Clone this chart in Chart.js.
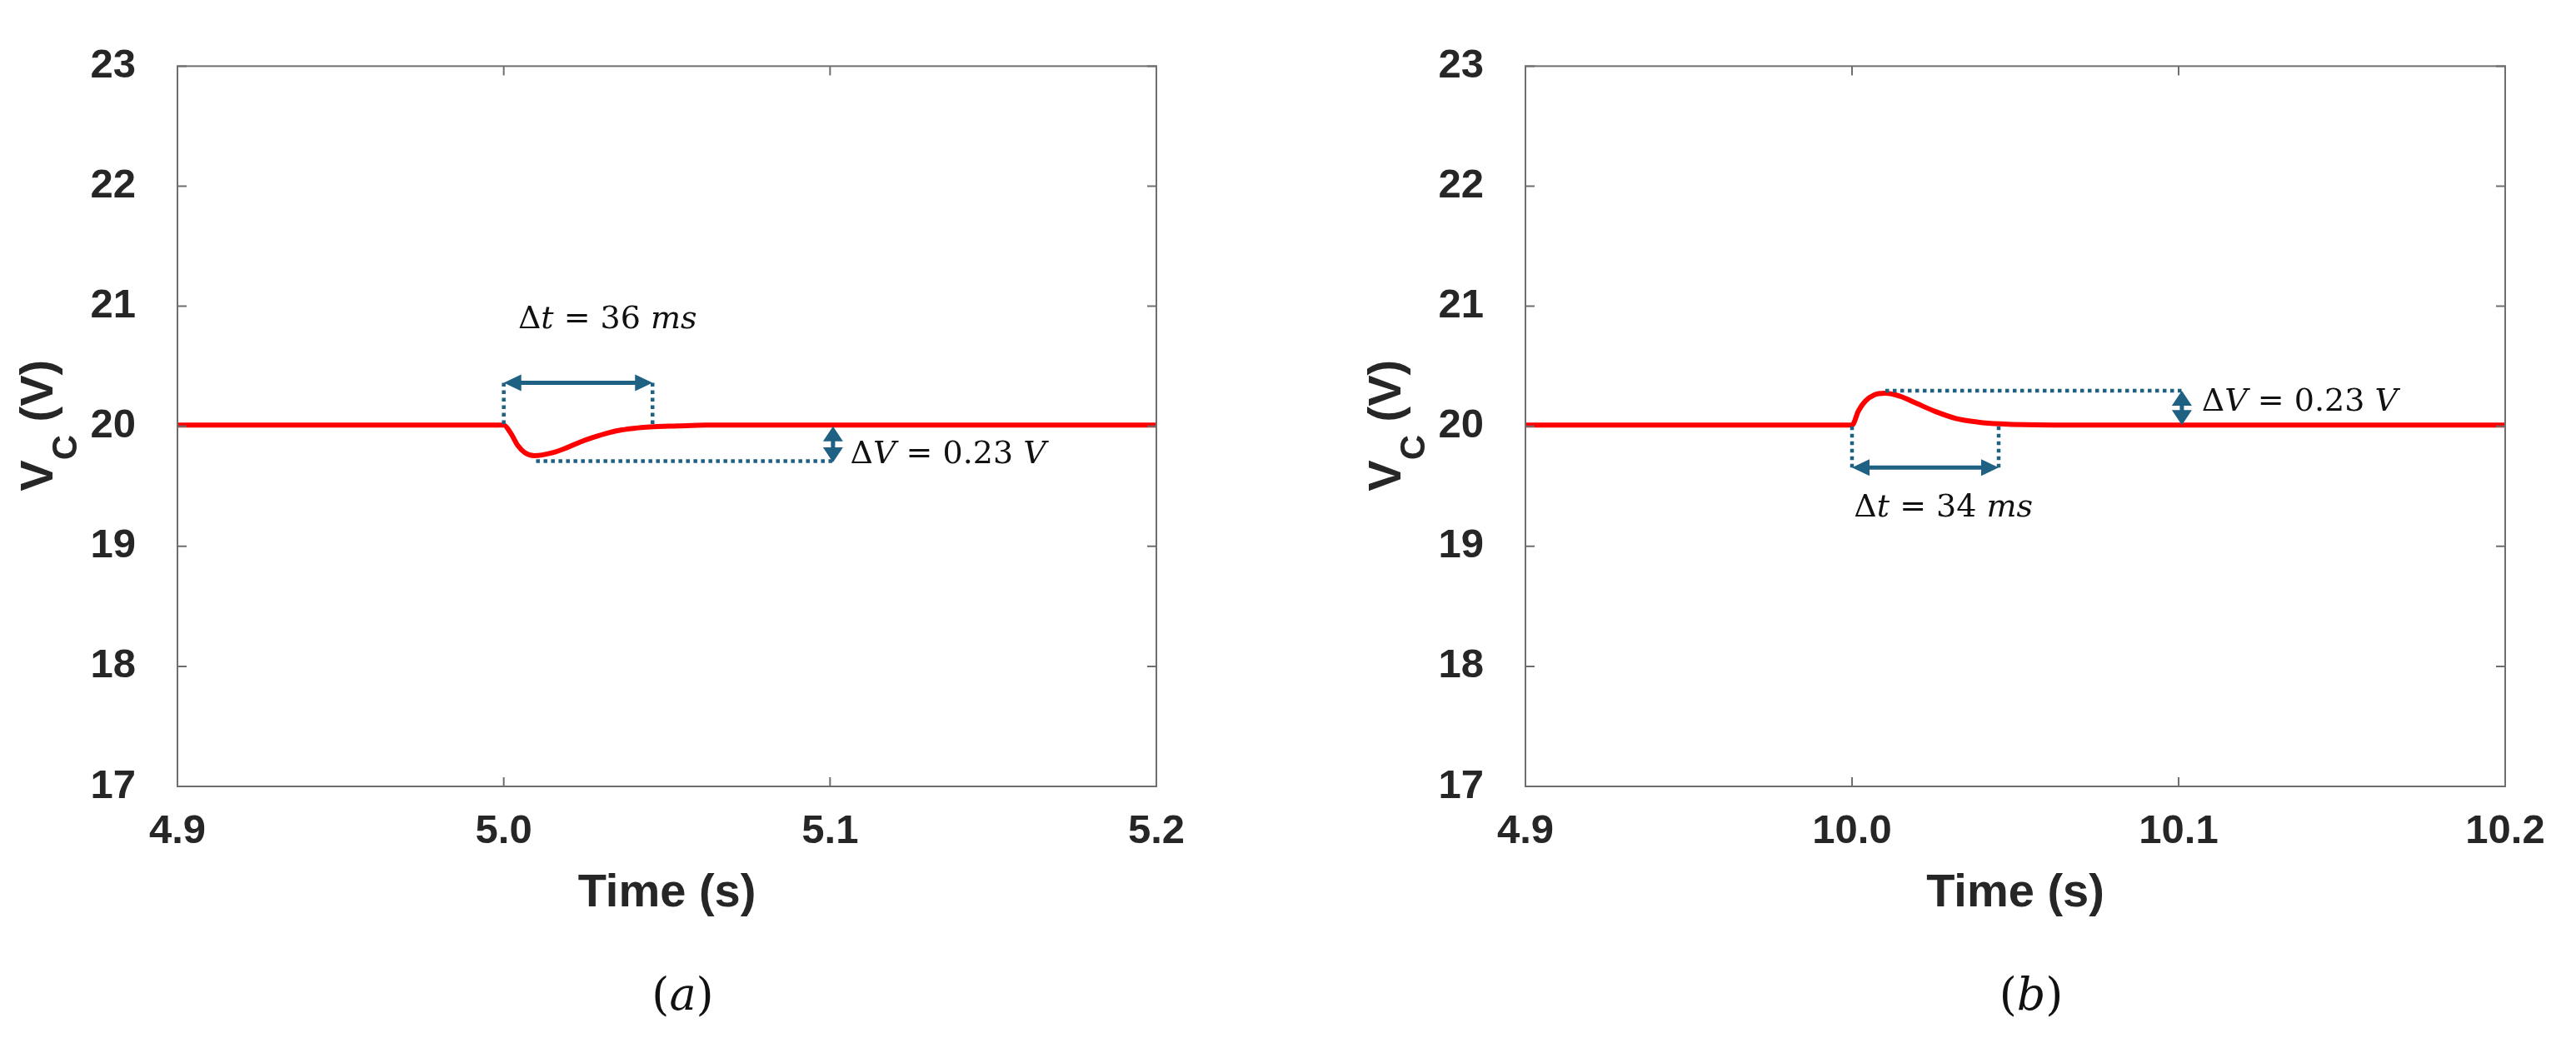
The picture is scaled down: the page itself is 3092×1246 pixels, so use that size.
<!DOCTYPE html>
<html>
<head>
<meta charset="utf-8">
<script src="https://cdn.jsdelivr.net/npm/chart.js@4.4.1/dist/chart.umd.min.js"></script>
<style>
  html, body { margin: 0; padding: 0; background: #fff; }
  #wrap { position: relative; width: 3092px; height: 1246px; }
  canvas { position: absolute; top: 0; }
</style>
</head>
<body>
<div id="wrap">
  <canvas id="chartA" width="1546" height="1246" style="left:0"></canvas>
  <canvas id="chartB" width="1546" height="1246" style="left:1546px"></canvas>
</div>
<script>
// (a) capacitor voltage around the step at 5.0 s
const timeA = [4.9, 5.0, 5.0022, 5.0043, 5.0065, 5.0094, 5.0150, 5.0192, 5.0235, 5.0277, 5.0320, 5.0362, 5.0405, 5.0448, 5.0533, 5.0618, 5.2];
const voltA = [20.01, 20.01, 19.94, 19.84, 19.78, 19.755, 19.78, 19.82, 19.87, 19.91, 19.945, 19.97, 19.985, 19.995, 20.003, 20.01, 20.01];

// (b) capacitor voltage around the step at 10.0 s
const timeB = [9.9, 10.0, 10.002, 10.0041, 10.0067, 10.0101, 10.0147, 10.0198, 10.0258, 10.0318, 10.0386, 10.0454, 10.0616, 10.2];
const voltB = [20.01, 20.01, 20.13, 20.21, 20.26, 20.275, 20.25, 20.19, 20.12, 20.065, 20.035, 20.02, 20.01, 20.01];

const voltTicks = [17, 18, 19, 20, 21, 22, 23];
const timeTicksA = [4.9, 5.0, 5.1, 5.2];
const timeLabelsA = ['4.9', '5.0', '5.1', '5.2'];
const timeTicksB = [9.9, 10.0, 10.1, 10.2];
const timeLabelsB = ['4.9', '10.0', '10.1', '10.2'];

// annotation anchors (time, volts)
const baseV = 20.01;
const spanA = [5.0, 5.0456, 20.363];      // Δt arrow: t0, t1, V
const levelA = [5.0099, 5.1009, 19.71];   // dotted ΔV level: t0, t1, V
const dvA = [5.1009, 20.0, 19.70];        // ΔV arrow: t, V top, V bottom
const dtTextA = [5.0044, 20.82];
const dvTextA = [5.1062, 19.69];

const spanB = [10.0, 10.0449, 19.657];
const levelB = [10.0102, 10.101, 20.297];
const dvB = [10.101, 20.297, 20.01];
const dtTextB = [10.0006, 19.25];
const dvTextB = [10.1071, 20.129];

const NOTE = '#1f6183';
const INK = '#262626';

function dotted(ctx, x0, y0, x1, y1) {
  ctx.save();
  ctx.strokeStyle = NOTE;
  ctx.lineWidth = 4.5;
  ctx.setLineDash([4.5, 4.5]);
  ctx.beginPath();
  ctx.moveTo(x0, y0);
  ctx.lineTo(x1, y1);
  ctx.stroke();
  ctx.restore();
}

function head(ctx, x, y, ang, len, half) {
  ctx.save();
  ctx.translate(x, y);
  ctx.rotate(ang);
  ctx.beginPath();
  ctx.moveTo(0, 0);
  ctx.lineTo(-len, -half);
  ctx.lineTo(-len, half);
  ctx.closePath();
  ctx.fillStyle = NOTE;
  ctx.fill();
  ctx.restore();
}

function doubleArrow(ctx, x0, y0, x1, y1, len, half) {
  const ang = Math.atan2(y1 - y0, x1 - x0);
  const ux = Math.cos(ang), uy = Math.sin(ang);
  ctx.save();
  ctx.strokeStyle = NOTE;
  ctx.lineWidth = 5;
  ctx.beginPath();
  ctx.moveTo(x0 + ux * len * 0.8, y0 + uy * len * 0.8);
  ctx.lineTo(x1 - ux * len * 0.8, y1 - uy * len * 0.8);
  ctx.stroke();
  ctx.restore();
  head(ctx, x1, y1, ang, len, half);
  head(ctx, x0, y0, ang + Math.PI, len, half);
}

// parts: [text, italic]
function mathText(ctx, parts, x, y, size, align) {
  const fonts = parts.map(p => (p[1] ? 'italic ' : '') + size + 'px "DejaVu Serif"');
  let w = 0;
  const ws = parts.map((p, i) => {
    ctx.font = fonts[i];
    const m = ctx.measureText(p[0]).width;
    w += m;
    return m;
  });
  let cx = align === 'center' ? x - w / 2 : x;
  ctx.fillStyle = '#111';
  ctx.textAlign = 'left';
  ctx.textBaseline = 'alphabetic';
  parts.forEach((p, i) => {
    ctx.font = fonts[i];
    ctx.fillText(p[0], cx, y);
    cx += ws[i];
  });
}

function yTitle(ctx, x, y) {
  ctx.save();
  ctx.translate(x, y);
  ctx.rotate(-Math.PI / 2);
  ctx.fillStyle = INK;
  ctx.textAlign = 'left';
  ctx.textBaseline = 'alphabetic';
  ctx.font = 'bold 56px "Liberation Sans"';
  ctx.fillText('V', 0, 0);
  let w = ctx.measureText('V').width;
  ctx.font = 'bold 42px "Liberation Sans"';
  ctx.fillText('C', w, 29);
  w += ctx.measureText('C').width;
  ctx.font = 'bold 56px "Liberation Sans"';
  ctx.fillText(' (V)', w, 0);
  ctx.restore();
}

function notesPlugin(cfg) {
  return {
    id: 'vcNotes',
    afterDraw(chart) {
      const { ctx, chartArea: a, scales: { x, y } } = chart;
      ctx.save();
      // frame and inward ticks
      ctx.strokeStyle = '#6e6e6e';
      ctx.lineWidth = 2;
      ctx.strokeRect(a.left, a.top, a.right - a.left, a.bottom - a.top);
      ctx.beginPath();
      x.ticks.forEach(t => {
        const px = x.getPixelForValue(t.value);
        ctx.moveTo(px, a.bottom); ctx.lineTo(px, a.bottom - 11);
        ctx.moveTo(px, a.top); ctx.lineTo(px, a.top + 11);
      });
      y.ticks.forEach(t => {
        const py = y.getPixelForValue(t.value);
        ctx.moveTo(a.left, py); ctx.lineTo(a.left + 11, py);
        ctx.moveTo(a.right, py); ctx.lineTo(a.right - 11, py);
      });
      ctx.stroke();

      const X = v => x.getPixelForValue(v), Y = v => y.getPixelForValue(v);
      // Δt span
      const [s0, s1, sv] = cfg.span;
      dotted(ctx, X(s0), Y(sv), X(s0), Y(baseV));
      dotted(ctx, X(s1), Y(sv), X(s1), Y(baseV));
      doubleArrow(ctx, X(s0), Y(sv), X(s1), Y(sv), 21, 10);
      mathText(ctx, cfg.dtParts, X(cfg.dtText[0]), Y(cfg.dtText[1]), 38, 'left');
      // ΔV level
      const [l0, l1, lv] = cfg.level;
      dotted(ctx, X(l0), Y(lv), X(l1), Y(lv));
      const [dt, dv0, dv1] = cfg.dv;
      doubleArrow(ctx, X(dt), Y(dv0), X(dt), Y(dv1), 18, 12);
      mathText(ctx, cfg.dvParts, X(cfg.dvText[0]), Y(cfg.dvText[1]), 38, 'left');

      yTitle(ctx, a.left - 150, (a.top + a.bottom) / 2 + 78);
      mathText(ctx, cfg.caption, (a.left + a.right) / 2 + 19, 1212, 54, 'center');
      ctx.restore();
    }
  };
}

function makeChart(id, times, volts, ticks, labels, padLeft, padRight, cfg) {
  const ctx = document.getElementById(id).getContext('2d');
  return new Chart(ctx, {
    type: 'line',
    data: {
      datasets: [{
        data: times.map((t, i) => ({ x: t, y: volts[i] })),
        borderColor: '#ff0000',
        borderWidth: 6,
        pointRadius: 0,
        fill: false,
        cubicInterpolationMode: 'monotone'
      }]
    },
    options: {
      responsive: false,
      animation: false,
      layout: { padding: { left: padLeft, right: padRight, top: 39, bottom: 139.4 } },
      plugins: { legend: { display: false }, tooltip: { enabled: false } },
      scales: {
        x: {
          type: 'linear',
          min: ticks[0],
          max: ticks[ticks.length - 1],
          afterBuildTicks: s => { s.ticks = ticks.map(v => ({ value: v })); },
          afterFit: s => { s.height = 162.6; },
          grid: { display: false, drawTicks: false },
          border: { display: false },
          ticks: {
            autoSkip: false,
            maxRotation: 0,
            padding: 25,
            color: INK,
            font: { family: 'Liberation Sans', size: 49, weight: 'bold' },
            callback: (v, i) => labels[i]
          },
          title: {
            display: true,
            text: 'Time (s)',
            color: INK,
            padding: 0,
            font: { family: 'Liberation Sans', size: 56, weight: 'bold', lineHeight: 1.2 }
          }
        },
        y: {
          min: 17,
          max: 23,
          afterBuildTicks: s => { s.ticks = voltTicks.map(v => ({ value: v })); },
          afterFit: s => { s.width = 213; },
          grid: { display: false, drawTicks: false },
          border: { display: false },
          ticks: {
            padding: 50,
            color: INK,
            font: { family: 'Liberation Sans', size: 49, weight: 'bold' },
            callback: v => String(v)
          }
        }
      }
    },
    plugins: [notesPlugin(cfg)]
  });
}

makeChart('chartA', timeA, voltA, timeTicksA, timeLabelsA, 0, 158, {
  span: spanA, level: levelA, dv: dvA, dtText: dtTextA, dvText: dvTextA,
  dtParts: [['Δ', false], ['t', true], [' = 36 ', false], ['ms', true]],
  dvParts: [['Δ', false], ['V', true], [' = 0.23 ', false], ['V', true]],
  caption: [['(', false], ['a', true], [')', false]]
});

makeChart('chartB', timeB, voltB, timeTicksB, timeLabelsB, 72, 85, {
  span: spanB, level: levelB, dv: dvB, dtText: dtTextB, dvText: dvTextB,
  dtParts: [['Δ', false], ['t', true], [' = 34 ', false], ['ms', true]],
  dvParts: [['Δ', false], ['V', true], [' = 0.23 ', false], ['V', true]],
  caption: [['(', false], ['b', true], [')', false]]
});
</script>
</body>
</html>
